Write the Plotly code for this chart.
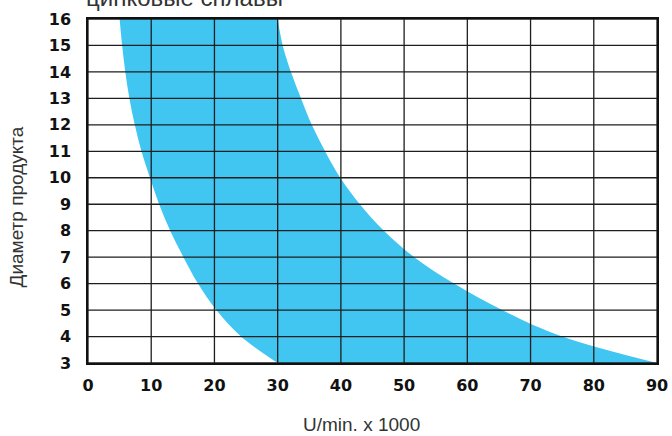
import plotly.graph_objects as go

# диаметр продукта (ось Y)
diameter = [3, 4, 5, 6, 7, 8, 9, 10, 11, 12, 13, 14, 15, 16]
# граница минимальных оборотов, U/min x 1000
speed_min = [30, 24.2, 20.3, 17.4, 15.1, 13.0, 11.25, 9.8, 8.45, 7.4, 6.55, 5.9, 5.4, 5.0]
# граница максимальных оборотов
speed_max = [90, 75.0, 65.5, 57.9, 51.6, 46.8, 43.0, 39.9, 37.5, 35.4, 33.7, 32.1, 30.8, 30.0]

x_ticks = [0, 10, 20, 30, 40, 50, 60, 70, 80, 90]
y_ticks = [3, 4, 5, 6, 7, 8, 9, 10, 11, 12, 13, 14, 15, 16]

fill_color = '#41C6F2'
grid_color = '#1e1e1e'

fig = go.Figure()
fig.add_trace(go.Scatter(x=speed_min, y=diameter, mode='lines', line=dict(width=0, shape='spline'),
                         hoverinfo='skip', showlegend=False))
fig.add_trace(go.Scatter(x=speed_max, y=diameter, mode='lines', line=dict(width=0, shape='spline'),
                         fill='tonextx', fillcolor=fill_color, hoverinfo='skip', showlegend=False))

# сетка поверх заливки
for xv in x_ticks:
    fig.add_shape(type='line', x0=xv, x1=xv, y0=y_ticks[0], y1=y_ticks[-1], xref='x', yref='y',
                  line=dict(color=grid_color, width=1.3), layer='above')
for yv in y_ticks:
    fig.add_shape(type='line', x0=x_ticks[0], x1=x_ticks[-1], y0=yv, y1=yv, xref='x', yref='y',
                  line=dict(color=grid_color, width=1.3), layer='above')

tick_font = dict(family='DejaVu Sans, sans-serif', size=16, color='#111', weight='bold')

fig.update_xaxes(range=[0, 90], tickvals=x_ticks, showgrid=False, zeroline=False, automargin=False,
                 showline=True, linecolor='#111', linewidth=1.5, mirror=True,
                 ticks='outside', ticklen=7, tickcolor='rgba(0,0,0,0)', tickfont=tick_font)
fig.update_yaxes(range=[3, 16], tickvals=y_ticks, showgrid=False, zeroline=False, automargin=False,
                 showline=True, linecolor='#111', linewidth=1.5, mirror=True,
                 ticks='outside', ticklen=12, tickcolor='rgba(0,0,0,0)', tickfont=tick_font)

label_font = dict(family='Liberation Sans, Arial, sans-serif', size=19, color='#333')
fig.add_annotation(text='U/min. x 1000', xref='paper', yref='paper', x=0.4815, y=-0.180,
                   xanchor='center', yanchor='middle', showarrow=False, font=label_font)
fig.add_annotation(text='Диаметр продукта', xref='paper', yref='paper', x=-0.124, y=0.4535,
                   xanchor='center', yanchor='middle', textangle=-90, showarrow=False, font=label_font)
fig.add_annotation(text='цинковые сплавы', xref='paper', yref='paper', x=-0.007, y=1.0175,
                   xanchor='left', yanchor='bottom', showarrow=False,
                   font=dict(family='Liberation Sans, Arial, sans-serif', size=24, color='#333'))

fig.update_layout(
    width=672, height=436,
    margin=dict(l=88, r=15, t=19, b=73),
    paper_bgcolor='white',
    plot_bgcolor='white',
)

# убираем отступы body, чтобы график встал в угол окна
fig.write_html('out.html', config={'displayModeBar': False},
               post_script="document.body.style.margin='0';"
                           "document.body.style.overflow='hidden';")
